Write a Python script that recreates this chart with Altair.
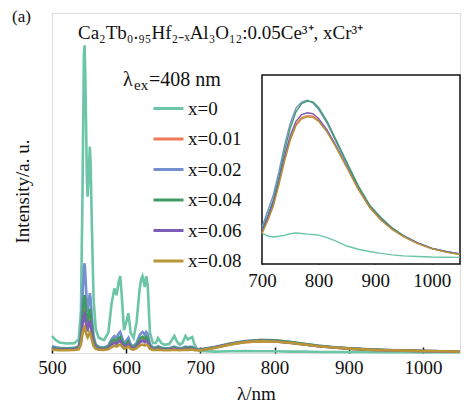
import altair as alt
import pandas as pd

labels = ["x=0", "x=0.01", "x=0.02", "x=0.04", "x=0.06", "x=0.08"]
colors = ["#6cc5a6", "#ef7b56", "#7590d0", "#3f9b63", "#7c5cb4", "#b89536"]

# main plot wavelengths (nm)
wl_vis = [500, 505, 510, 520, 530, 536, 539, 541, 543, 544, 545, 547, 548, 549, 551,
          552, 554, 556, 559, 563, 570, 576, 580, 584, 587, 590, 592, 594, 597, 600,
          603, 606, 610, 614, 618, 620, 622, 625, 627, 629, 632, 636, 640, 643, 647,
          652, 658, 662, 665, 668, 672, 676, 680, 683, 686, 689, 692, 696, 700]
wl_nir = [720, 740, 760, 780, 800, 820, 840, 860, 880, 900, 925, 950, 975, 1000, 1025, 1050]

vis_x0 = [0.050, 0.038, 0.031, 0.028, 0.029, 0.040, 0.120, 0.450, 0.880, 0.905,
          0.800, 0.520, 0.460, 0.500, 0.607, 0.560, 0.350, 0.160, 0.070, 0.045,
          0.038, 0.060, 0.140, 0.190, 0.170, 0.210, 0.226, 0.170, 0.067, 0.090,
          0.117, 0.060, 0.044, 0.090, 0.185, 0.215, 0.226, 0.194, 0.226, 0.200,
          0.060, 0.029, 0.030, 0.044, 0.030, 0.024, 0.026, 0.040, 0.050, 0.035,
          0.024, 0.030, 0.050, 0.040, 0.044, 0.047, 0.025, 0.010, 0.006]
vis_x001 = [0.014, 0.012, 0.011, 0.011, 0.012, 0.015, 0.038, 0.090, 0.125, 0.130,
            0.118, 0.090, 0.095, 0.105, 0.110, 0.095, 0.060, 0.030, 0.017, 0.013,
            0.012, 0.016, 0.027, 0.034, 0.031, 0.038, 0.041, 0.032, 0.019, 0.025,
            0.030, 0.018, 0.015, 0.021, 0.034, 0.038, 0.041, 0.036, 0.041, 0.037,
            0.018, 0.012, 0.012, 0.015, 0.012, 0.011, 0.011, 0.013, 0.014, 0.012,
            0.011, 0.012, 0.014, 0.013, 0.014, 0.014, 0.011, 0.010, 0.009]
vis_x002 = [0.020, 0.017, 0.015, 0.014, 0.015, 0.020, 0.060, 0.160, 0.250, 0.264,
            0.230, 0.140, 0.120, 0.140, 0.176, 0.160, 0.100, 0.050, 0.025, 0.018,
            0.016, 0.022, 0.040, 0.050, 0.045, 0.058, 0.062, 0.048, 0.028, 0.036,
            0.045, 0.025, 0.020, 0.030, 0.052, 0.058, 0.062, 0.054, 0.062, 0.056,
            0.025, 0.016, 0.016, 0.020, 0.016, 0.014, 0.014, 0.017, 0.019, 0.016,
            0.014, 0.015, 0.019, 0.017, 0.018, 0.018, 0.014, 0.012, 0.011]
vis_x004 = [0.016, 0.014, 0.013, 0.012, 0.013, 0.017, 0.045, 0.110, 0.160, 0.170,
            0.150, 0.100, 0.090, 0.105, 0.130, 0.115, 0.075, 0.038, 0.020, 0.015,
            0.014, 0.018, 0.032, 0.040, 0.036, 0.045, 0.048, 0.038, 0.022, 0.029,
            0.035, 0.020, 0.017, 0.024, 0.040, 0.045, 0.048, 0.042, 0.048, 0.043,
            0.020, 0.014, 0.014, 0.017, 0.014, 0.012, 0.012, 0.015, 0.016, 0.014,
            0.012, 0.013, 0.016, 0.015, 0.016, 0.016, 0.012, 0.011, 0.010]
vis_x006 = [0.013, 0.011, 0.010, 0.010, 0.011, 0.014, 0.034, 0.080, 0.110, 0.115,
            0.100, 0.070, 0.068, 0.080, 0.095, 0.082, 0.052, 0.027, 0.015, 0.012,
            0.011, 0.014, 0.024, 0.030, 0.027, 0.034, 0.036, 0.028, 0.017, 0.022,
            0.027, 0.016, 0.013, 0.019, 0.030, 0.034, 0.036, 0.032, 0.036, 0.033,
            0.016, 0.011, 0.011, 0.013, 0.011, 0.010, 0.010, 0.012, 0.013, 0.011,
            0.010, 0.011, 0.013, 0.012, 0.013, 0.013, 0.010, 0.009, 0.009]
vis_x008 = [0.010, 0.009, 0.008, 0.008, 0.009, 0.011, 0.025, 0.055, 0.073, 0.076,
            0.068, 0.050, 0.046, 0.052, 0.060, 0.054, 0.036, 0.020, 0.012, 0.010,
            0.009, 0.011, 0.017, 0.021, 0.019, 0.023, 0.025, 0.020, 0.013, 0.016,
            0.019, 0.012, 0.010, 0.014, 0.021, 0.024, 0.025, 0.022, 0.025, 0.023,
            0.012, 0.009, 0.009, 0.010, 0.009, 0.008, 0.008, 0.009, 0.010, 0.009,
            0.008, 0.009, 0.010, 0.009, 0.010, 0.010, 0.008, 0.008, 0.008]

nir_x0 = [0.004, 0.005, 0.006, 0.005, 0.005, 0.004, 0.004, 0.003, 0.003, 0.003, 0.003, 0.002, 0.002, 0.002, 0.002, 0.002]
nir_x001 = [0.016, 0.025, 0.032, 0.035, 0.034, 0.030, 0.025, 0.020, 0.016, 0.013, 0.010, 0.008, 0.007, 0.006, 0.005, 0.004]
nir_x002 = [0.018, 0.028, 0.035, 0.038, 0.037, 0.032, 0.026, 0.021, 0.017, 0.014, 0.011, 0.009, 0.007, 0.006, 0.005, 0.004]
nir_x004 = [0.017, 0.027, 0.034, 0.038, 0.037, 0.033, 0.027, 0.021, 0.017, 0.014, 0.011, 0.009, 0.007, 0.006, 0.005, 0.004]
nir_x006 = [0.016, 0.026, 0.033, 0.036, 0.035, 0.030, 0.025, 0.020, 0.016, 0.013, 0.010, 0.008, 0.007, 0.006, 0.005, 0.004]
nir_x008 = [0.015, 0.025, 0.032, 0.035, 0.034, 0.030, 0.025, 0.020, 0.016, 0.013, 0.010, 0.008, 0.007, 0.006, 0.005, 0.004]

# inset (700-1050 nm)
wl_ins = [700, 710, 720, 730, 740, 750, 760, 770, 780, 790, 800, 815, 830, 850, 870,
          890, 910, 930, 950, 975, 1000, 1025, 1050]
ins_x0 = [0.164, 0.148, 0.143, 0.147, 0.153, 0.160, 0.164, 0.161, 0.158, 0.156, 0.153, 0.140,
          0.122, 0.095, 0.078, 0.066, 0.056, 0.048, 0.043, 0.040, 0.037, 0.036, 0.035]
ins_x001 = [0.165, 0.235, 0.315, 0.430, 0.555, 0.665, 0.740, 0.775, 0.785, 0.782, 0.760, 0.702,
            0.625, 0.512, 0.398, 0.302, 0.235, 0.184, 0.146, 0.109, 0.082, 0.064, 0.051]
ins_x002 = [0.196, 0.280, 0.365, 0.490, 0.630, 0.745, 0.825, 0.857, 0.866, 0.852, 0.818, 0.745,
            0.652, 0.530, 0.410, 0.310, 0.245, 0.190, 0.150, 0.112, 0.083, 0.066, 0.053]
ins_x004 = [0.180, 0.255, 0.340, 0.460, 0.600, 0.720, 0.805, 0.848, 0.862, 0.858, 0.828, 0.755,
            0.662, 0.538, 0.415, 0.313, 0.246, 0.191, 0.150, 0.112, 0.084, 0.066, 0.053]
ins_x006 = [0.170, 0.245, 0.325, 0.440, 0.570, 0.680, 0.755, 0.790, 0.800, 0.795, 0.770, 0.710,
            0.630, 0.515, 0.400, 0.303, 0.236, 0.185, 0.147, 0.110, 0.083, 0.065, 0.052]
ins_x008 = [0.160, 0.228, 0.305, 0.420, 0.545, 0.655, 0.732, 0.768, 0.778, 0.776, 0.755, 0.698,
            0.622, 0.510, 0.396, 0.300, 0.233, 0.183, 0.145, 0.108, 0.081, 0.063, 0.050]

main_series = [vis_x0 + nir_x0, vis_x001 + nir_x001, vis_x002 + nir_x002,
               vis_x004 + nir_x004, vis_x006 + nir_x006, vis_x008 + nir_x008]
ins_series = [ins_x0, ins_x001, ins_x002, ins_x004, ins_x006, ins_x008]
wl_main = wl_vis + wl_nir

rows_main, rows_ins = [], []
for k, lab in enumerate(labels):
    for i, (w, v) in enumerate(zip(wl_main, main_series[k])):
        rows_main.append({"s": lab, "wl": w, "v": v, "o": k * 1000 + i})
    for i, (w, v) in enumerate(zip(wl_ins, ins_series[k])):
        rows_ins.append({"s": lab, "wl": w, "v": v, "o": k * 1000 + i})
df_main = pd.DataFrame(rows_main)
df_ins = pd.DataFrame(rows_ins)

FONT = "Liberation Serif"
INK = "#111"
W, H = 408, 340

color = alt.Color("s:N", scale=alt.Scale(domain=labels, range=colors),
                  sort=labels,
                  legend=alt.Legend(orient="none", legendX=100, legendY=79, title=None,
                                    symbolType="stroke", symbolSize=900, symbolStrokeWidth=3,
                                    labelFontSize=19, labelFont=FONT, labelColor=INK,
                                    rowPadding=3.5, padding=0, labelOffset=3))

main_lines = alt.Chart(df_main).mark_line(strokeWidth=2.6).encode(
    x=alt.X("wl:Q", scale=alt.Scale(domain=[500, 1050], nice=False, zero=False),
            axis=alt.Axis(values=[500, 600, 700, 800, 900, 1000], format="d", title="λ/nm",
                          domain=False, offset=-6, tickSize=6, tickWidth=1.5, tickColor=INK,
                          labelFlush=False, labelPadding=5, labelFontSize=19, labelFont=FONT,
                          labelColor=INK, titleFont=FONT, titleFontSize=19,
                          titleFontWeight="normal", titleColor=INK, titlePadding=7,
                          grid=False)),
    y=alt.Y("v:Q", scale=alt.Scale(domain=[0, 1], nice=False),
            axis=alt.Axis(title="Intensity/a. u.", labels=False, ticks=False, domain=False,
                          grid=False, titleFont=FONT, titleFontSize=19,
                          titleFontWeight="normal", titleColor=INK,
                          titleX=-30, titleY=178, titleBaseline="middle", titleAngle=270)),
    color=color,
    order="o:Q",
)


def txt(s, x, y, size):
    return alt.Chart(pd.DataFrame({"t": [s]})).mark_text(
        align="left", baseline="middle", font=FONT, fontSize=size, color=INK
    ).encode(text="t:N", x=alt.value(x), y=alt.value(y))


title_txt = txt("Ca₂Tb₀.₉₅Hf₂₋ₓAl₃O₁₂:0.05Ce³⁺, xCr³⁺", 26, 20, 19)
ex_l = txt("λ", 71, 67, 20)
ex_s = txt("ex", 82, 72, 15)
ex_r = txt("=408 nm", 97, 67, 20)
a_txt = txt("(a)", -40, 4, 17)

main = alt.layer(main_lines, title_txt, ex_l, ex_s, ex_r, a_txt)

ix = alt.Scale(domain=[700, 1050], range=[210, 408], nice=False, zero=False)
iy = alt.Scale(domain=[0, 1], range=[251, 62], nice=False)

frame_df = pd.DataFrame({"x0": [700], "x1": [1050], "y0": [0], "y1": [1]})
inset_frame = alt.Chart(frame_df).mark_rect(fill="white", stroke=INK, strokeWidth=1.5).encode(
    x=alt.X("x0:Q", scale=ix,
            axis=alt.Axis(values=[700, 800, 900, 1000], format="d", orient="bottom", title=None,
                          domain=False, offset=-95, tickSize=6, tickWidth=1.5, tickColor=INK,
                          labelFlush=False, labelPadding=7, labelFontSize=19, labelFont=FONT,
                          labelColor=INK, grid=False)),
    x2="x1:Q",
    y=alt.Y("y0:Q", scale=iy, axis=None),
    y2="y1:Q",
)
inset_lines = alt.Chart(df_ins).mark_line(strokeWidth=1.4).encode(
    x=alt.X("wl:Q", scale=ix),
    y=alt.Y("v:Q", scale=iy),
    color=color,
    order="o:Q",
)
inset = alt.layer(inset_frame, inset_lines)

chart = alt.layer(main, inset).resolve_scale(x="independent", y="independent").properties(
    width=W, height=H,
    padding={"left": 44, "top": 5, "right": 1, "bottom": 53},
    autosize=alt.AutoSizeParams(type="none"),
).configure_view(stroke=INK, strokeWidth=1.5).configure(background="white")

chart.save("out.html", embed_options={"renderer": "svg", "actions": False})
